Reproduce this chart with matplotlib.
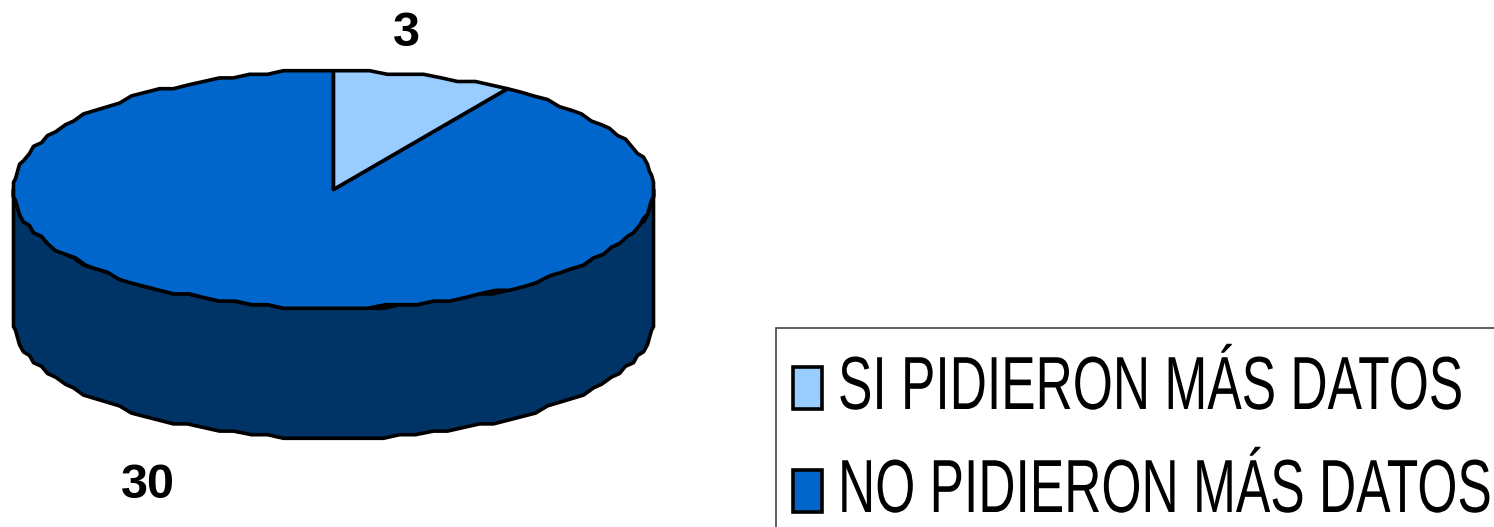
"""
Recreate the 3D pie of "pidieron mas datos" with a legend box on the right.
"""

import matplotlib
matplotlib.use("Agg")
import matplotlib.patheffects as pe
import matplotlib.pyplot as plt
import numpy as np
from matplotlib.patches import Polygon, Rectangle
from matplotlib.transforms import Affine2D

labels = ["SI PIDIERON MÁS DATOS", "NO PIDIERON MÁS DATOS"]
values = [3, 30]
colors = ["#99CCFF", "#0066CC"]
side_color = "#003366"

CX, CY, RX, RY, DEPTH = 333.5, 189.5, 320.5, 118.5, 130
STEP_X, STEP_Y = 2.0, 3.6


class Stretch(pe.AbstractPathEffect):
    """Make the glyphs taller, the original font is a very condensed one."""

    def __init__(self, sy):
        super().__init__()
        self.sy = sy

    def draw_path(self, renderer, gc, tpath, affine, rgbFace=None):
        renderer.draw_path(gc, tpath, Affine2D().scale(1, self.sy) + affine, rgbFace)


def rim(start, stop, dy=0.0):
    # angles in degrees clockwise from 12 o'clock, snapped to a coarse grid like the source
    n = max(int(abs(stop - start) / 3), 2)
    th = np.radians(np.linspace(start, stop, n + 1))
    x = CX + RX * np.sin(th)
    y = CY - RY * np.cos(th)
    x = CX + np.round((x - CX) / STEP_X) * STEP_X
    y = CY + np.round((y - CY) / STEP_Y) * STEP_Y + dy
    return np.column_stack([x, y])


def main() -> None:
    fig = plt.figure(figsize=(14.94, 5.27), dpi=100)
    ax = fig.add_axes([0, 0, 1, 1])
    ax.set_xlim(0, 1494)
    ax.set_ylim(527, 0)
    ax.axis("off")

    lw = 2.6
    small_angle = 360 * values[0] / sum(values)

    # side wall, front half of the disc
    upper = rim(90, 270)
    lower = rim(90, 270, dy=DEPTH)
    wall = np.vstack([upper, lower[::-1]])
    ax.add_patch(Polygon(wall, closed=True, fc=side_color, ec="black", lw=lw, joinstyle="round"))

    # top faces
    centre = np.array([[CX, CY]])
    big = np.vstack([centre, rim(small_angle, 360)])
    small = np.vstack([centre, rim(0, small_angle)])
    ax.add_patch(Polygon(big, closed=True, fc=colors[1], ec="black", lw=lw, joinstyle="round"))
    ax.add_patch(Polygon(small, closed=True, fc=colors[0], ec="black", lw=lw, joinstyle="round"))

    # value labels
    ax.text(406, 33, str(values[0]), fontsize=35, fontweight="bold", family="Liberation Sans",
            ha="center", va="center")
    ax.text(148, 486, str(values[1]), fontsize=35, fontweight="bold", family="Liberation Sans",
            ha="center", va="center")

    # legend box runs off the right and bottom edges
    ax.plot([776, 776, 1494], [527, 328, 328], color="#444444", lw=1.2, solid_joinstyle="miter")
    for label, color, top, base in zip(labels, colors, [366.5, 469.5], [409, 512]):
        ax.add_patch(Rectangle((792.5, top), 29, 42, fc=color, ec="black", lw=lw))
        ax.text(838, base, label, fontsize=37.1, family="Liberation Sans", ha="left", va="baseline",
                path_effects=[Stretch(1.46)])

    fig.savefig("out.png", dpi=100)
    plt.close(fig)


if __name__ == "__main__":
    main()
